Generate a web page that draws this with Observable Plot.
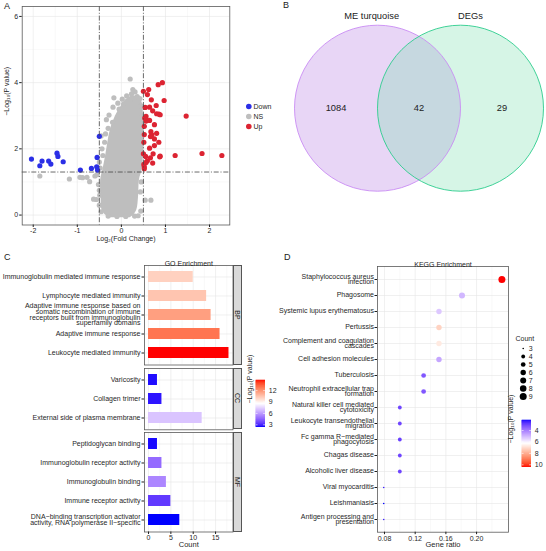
<!DOCTYPE html>
<html>
<head>
<meta charset="utf-8">
<script src="https://cdn.jsdelivr.net/npm/d3@7"></script>
<script src="https://cdn.jsdelivr.net/npm/@observablehq/plot@0.6"></script>
<style>
  body { margin: 0; background: #fff; }
  #fig { position: relative; width: 546px; height: 551px; overflow: hidden;
         font-family: "Liberation Sans", Arial, Helvetica, sans-serif; color: #1a1a1a; }
  .tag { position: absolute; font-size: 9px; line-height: 1; }
  .strip { position: absolute; background: #d9d9d9; border: 0.8px solid #555; box-sizing: border-box; }
  .strip span { position: absolute; left: 50%; top: 50%; font-size: 7px; white-space: nowrap;
                transform: translate(-50%, -50%) rotate(90deg); color: #1a1a1a; }
</style>
</head>
<body>
<div id="fig"></div>
<script>
// ---------- Volcano plot (A) ----------
const groups = ["Down", "NS", "Up"];
const downGenes = [
  [-2.04, 1.69], [-1.85, 1.49], [-1.80, 1.63], [-1.65, 1.63], [-1.60, 1.54], [-1.46, 1.87],
  [-1.44, 1.77], [-1.32, 1.61], [-0.93, 1.36], [-0.68, 1.41], [-0.56, 1.46], [-0.55, 1.74],
  [-0.54, 1.36], [-0.50, 2.38]
];
const upGenes = [
  [0.93, 4.00], [0.835, 3.94], [0.50, 3.74], [0.62, 3.79], [0.59, 3.64], [0.68, 3.48],
  [0.97, 3.46], [0.79, 3.31], [0.54, 3.25], [0.64, 3.26], [0.71, 3.15], [0.80, 3.06],
  [0.85, 3.05], [0.88, 3.03], [0.56, 2.98], [0.53, 2.93], [0.55, 2.90], [0.56, 2.84],
  [1.47, 2.99], [0.64, 2.86], [0.75, 2.73], [0.52, 2.68], [0.67, 2.52], [0.52, 2.43],
  [0.69, 2.42], [0.80, 2.47], [0.66, 2.37], [0.75, 2.30], [0.51, 2.20], [0.85, 2.20],
  [0.64, 2.02], [0.75, 2.10], [0.50, 1.85], [0.55, 1.77], [0.72, 1.85], [0.88, 1.78],
  [0.87, 1.76], [1.22, 1.80], [1.83, 1.86], [2.28, 1.80], [0.66, 1.73], [0.59, 1.64],
  [0.71, 1.57], [0.51, 1.53], [0.52, 1.46], [0.56, 1.59], [0.52, 1.40]
];
// non-significant genes lying around the dense central cloud
const nsGenes = [
  [0.20, 4.11], [0.26, 3.79], [0.31, 3.72], [0.23, 3.66], [0.36, 3.58], [0.42, 3.52],
  [0.12, 3.60], [0.02, 3.50], [-0.17, 3.54], [-0.19, 3.26], [-0.08, 3.38], [-0.28, 3.02],
  [-0.34, 2.88], [-0.30, 2.62], [-0.36, 2.45], [-0.46, 2.39], [-0.38, 2.20], [-0.44, 2.00],
  [-0.42, 1.80], [-0.50, 1.60], [-0.48, 1.42], [-0.55, 1.22], [-0.60, 1.18], [-0.72, 1.01],
  [-0.78, 1.14], [-0.88, 1.13], [-0.94, 1.14], [-1.18, 1.09], [-1.85, 1.18], [-0.52, 0.92],
  [-0.50, 0.75], [-0.63, 0.48], [-0.57, 0.47], [-0.49, 0.60], [-0.50, 0.30], [-0.46, 0.10],
  [0.54, 0.45], [0.67, 0.45], [0.44, 0.12], [0.43, 0.70], [0.45, 1.00], [0.38, -0.02],
  [-0.30, -0.03], [0.10, -0.04], [-0.10, -0.04], [0.30, -0.03], [0.45, 3.30], [0.48, 3.00],
  [0.50, 2.70], [-0.20, 2.80], [-0.05, 3.20], [0.05, 3.35], [0.30, 3.45]
];
// outline of the densely packed non-significant core (-log10 P, left and right logFC edge)
const nsCoreY     = [-0.08, 0.00, 0.15, 0.55, 1.06, 1.36, 1.76, 2.17, 2.57, 2.97, 3.27, 3.47, 3.60];
const nsCoreLeft  = [-0.25, -0.36, -0.44, -0.46, -0.47, -0.42, -0.36, -0.31, -0.25, -0.14, -0.01, 0.09, 0.22];
const nsCoreRight = [0.20, 0.28, 0.35, 0.39, 0.41, 0.47, 0.50, 0.52, 0.52, 0.50, 0.49, 0.45, 0.36];
const fcCut = 0.5;
const pCut = 1.3;

// ---------- Venn diagram (B) ----------
const vennSets = ["ME turquoise", "DEGs"];
const vennRegionCounts = [1084, 42, 29]; // only ME turquoise, shared, only DEGs

// ---------- GO enrichment (C) ----------
const goCategories = ["BP", "CC", "MF"];
const bpTerms = [
  "Immunoglobulin mediated immune response",
  "Lymphocyte mediated immunity",
  "Adaptive immune response based on\nsomatic recombination of immune\nreceptors built from immunoglobulin\nsuperfamily domains",
  "Adaptive immune response",
  "Leukocyte mediated immunity"
];
const bpCounts = [10, 13, 14, 16, 18];
const bpLogP = [10.0, 10.4, 11.6, 12.8, 14.66];
const ccTerms = ["Varicosity", "Collagen trimer", "External side of plasma membrane"];
const ccCounts = [2, 3, 12];
const ccLogP = [2.5, 2.6, 7.0];
const mfTerms = [
  "Peptidoglycan binding",
  "Immunoglobulin receptor activity",
  "Immunoglobulin binding",
  "Immune receptor activity",
  "DNA\u2212binding transcription activator\nactivity, RNA polymerase II\u2212specific"
];
const mfCounts = [2, 3, 4, 5, 7];
const mfLogP = [2.45, 4.6, 5.35, 3.35, 2.37];
const goCountTicks = [0, 5, 10, 15];
const goLegendTicks = [3, 6, 9, 12];

// ---------- KEGG enrichment (D) ----------
const keggTerms = [
  "Staphylococcus aureus\ninfection",
  "Phagosome",
  "Systemic lupus erythematosus",
  "Pertussis",
  "Complement and coagulation\ncascades",
  "Cell adhesion molecules",
  "Tuberculosis",
  "Neutrophil extracellular trap\nformation",
  "Natural killer cell mediated\ncytotoxicity",
  "Leukocyte transendothelial\nmigration",
  "Fc gamma R\u2212mediated\nphagocytosis",
  "Chagas disease",
  "Alcoholic liver disease",
  "Viral myocarditis",
  "Leishmaniasis",
  "Antigen processing and\npresentation"
];
const keggRatio = [0.233, 0.181, 0.151, 0.151, 0.151, 0.151, 0.131, 0.131, 0.100, 0.100, 0.100, 0.100, 0.100, 0.079, 0.079, 0.079];
const keggCount = [9, 7, 6, 6, 6, 6, 5, 5, 4, 4, 4, 4, 4, 3, 3, 3];
const keggLogP = [10.42, 5.1, 5.4, 7.3, 6.8, 4.8, 3.4, 3.4, 3.1, 3.1, 3.0, 3.1, 3.1, 2.5, 2.25, 2.5];
const keggRatioTicks = [0.08, 0.12, 0.16, 0.20];
const keggSizeKeys = [3, 4, 5, 6, 7, 8, 9];
const keggLegendTicks = [4, 6, 8, 10];

// ---------- helpers ----------
const FONT = '"Liberation Sans", Arial, Helvetica, sans-serif';
const fig = document.getElementById("fig");
const TITLE_LOGP = "\u2212Log\u2081\u2080(P value)";

function put(node, left, top) {
  node.style.position = "absolute";
  node.style.left = left + "px";
  node.style.top = top + "px";
  fig.appendChild(node);
  return node;
}
function styleOf(size = "7px") {
  return { fontFamily: FONT, fontSize: size, color: "#1f1f1f", background: "transparent", overflow: "visible" };
}
const gridMajor = { stroke: "#e6e6e6", strokeOpacity: 1, strokeWidth: 0.6 };
const gridMinor = { stroke: "#f1f1f1", strokeOpacity: 1, strokeWidth: 0.4 };
const frameStyle = { stroke: "#5a5a5a", strokeWidth: 0.8 };
const dashStyle = { stroke: "#454545", strokeWidth: 0.8, strokeDasharray: "5,1.8,1,1.8" };

for (const [t, l, tp] of [["A", 4, 2], ["B", 283, 1], ["C", 4, 253], ["D", 284, 253]]) {
  const d = document.createElement("div");
  d.className = "tag";
  d.textContent = t;
  d.style.left = l + "px";
  d.style.top = tp + "px";
  fig.appendChild(d);
}

// ---------- A: volcano ----------
const groupColors = ["#2b2fe6", "#bebebe", "#dc2432"];
const volcanoRows = [
  ...nsGenes.map(([x, y]) => ({ x, y, group: "NS" })),
  ...downGenes.map(([x, y]) => ({ x, y, group: "Down" })),
  ...upGenes.map(([x, y]) => ({ x, y, group: "Up" }))
];
const nsCore = nsCoreY.map((y, i) => ({ y, x1: nsCoreLeft[i], x2: nsCoreRight[i] }));

put(Plot.plot({
  width: 240, height: 246,
  marginLeft: 21.7, marginRight: 10.7, marginTop: 6, marginBottom: 21.5,
  style: styleOf(),
  x: { domain: [-2.25, 2.46] },
  y: { domain: [-0.3, 6.3] },
  color: { domain: groups, range: groupColors },
  marks: [
    Plot.gridX([-1.5, -0.5, 0.5, 1.5], gridMinor),
    Plot.gridY([1, 3, 5], gridMinor),
    Plot.gridX([-2, -1, 0, 1, 2], gridMajor),
    Plot.gridY([0, 2, 4, 6], gridMajor),
    Plot.areaX(nsCore, { y: "y", x1: "x1", x2: "x2", fill: groupColors[1], curve: "catmull-rom" }),
    Plot.dot(volcanoRows, { x: "x", y: "y", fill: "group", r: 2.6 }),
    Plot.ruleX([-fcCut, fcCut], dashStyle),
    Plot.ruleY([pCut], dashStyle),
    Plot.frame(frameStyle),
    Plot.axisX([-2, -1, 0, 1, 2], { tickSize: 2.5, tickPadding: 1, label: null, tickFormat: d => String(d) }),
    Plot.axisY([0, 2, 4, 6], { tickSize: 2.5, tickPadding: 1.5, label: null, tickFormat: d => String(d) }),
    Plot.text(["Log\u2082(Fold Change)"], { text: d => d, frameAnchor: "bottom", dy: 15.5 }),
    Plot.text([TITLE_LOGP], { text: d => d, frameAnchor: "left", dx: -15, rotate: -90 })
  ]
}), 0, 0);

put(Plot.plot({
  width: 40, height: 36, margin: 0,
  style: styleOf(),
  x: { domain: [0, 1], range: [5.3, 30], axis: null },
  y: { type: "point", domain: groups, range: [6, 27], padding: 0, axis: null },
  color: { domain: groups, range: groupColors },
  marks: [
    Plot.dot(groups, { x: 0, y: d => d, fill: d => d, r: 2.8 }),
    Plot.text(groups, { x: 0, y: d => d, text: d => d, dx: 4.7, textAnchor: "start" })
  ]
}), 243, 99);

// ---------- B: Venn ----------
const R = 83; // circle radius in pixels; centres sit half a radius either side of the middle
const vennCircles = vennSets.map((name, i) => ({ name, cx: i === 0 ? -0.5 : 0.5, tx: i === 0 ? -0.57 : 0.62 }));
const vennRegions = vennRegionCounts.map((n, i) => ({ n, cx: i - 1 }));
put(Plot.plot({
  width: 273, height: 230, margin: 0,
  style: styleOf("9.3px"),
  x: { domain: [-145.5 / R, 127.5 / R], axis: null },
  y: { domain: [-122.3 / R, 107.7 / R], axis: null },
  marks: [
    Plot.dot([vennCircles[0]], { x: "cx", y: 0, r: R, fill: "#e8d6f6" }),
    Plot.dot([vennCircles[1]], { x: "cx", y: 0, r: R, fill: "#76deac", fillOpacity: 0.3 }),
    Plot.dot([vennCircles[0]], { x: "cx", y: 0, r: R, fill: "none", stroke: "#c98cf4", strokeWidth: 0.9 }),
    Plot.dot([vennCircles[1]], { x: "cx", y: 0, r: R, fill: "none", stroke: "#2ccd8d", strokeWidth: 0.9 }),
    Plot.text(vennRegions, { x: "cx", y: 0, text: d => String(d.n), fill: "#222" }),
    Plot.text(vennCircles, { x: "tx", y: 1.105, text: "name", fill: "#222" })
  ]
}), 273, 0);

// ---------- C: GO enrichment ----------
const goColor = {
  type: "linear", domain: [2.37, 8.515, 14.66], range: ["blue", "white", "red"], interpolate: "lab"
};
function goFacet(terms, counts, logp, opts) {
  const rows = terms.map((term, i) => ({ term, count: counts[i], p: logp[i] }));
  const frameH = opts.frameH;
  return Plot.plot({
    width: 233, height: opts.marginTop + frameH + opts.marginBottom,
    marginLeft: 144, marginRight: 0.5, marginTop: opts.marginTop, marginBottom: opts.marginBottom,
    style: styleOf(),
    x: { domain: [-0.9, 18.9], axis: null },
    y: { type: "band", domain: terms, paddingInner: 0.42, paddingOuter: 0.31 },
    color: goColor,
    marks: [
      Plot.gridX([2.5, 7.5, 12.5, 17.5], gridMinor),
      Plot.gridX(goCountTicks, gridMajor),
      Plot.gridY(terms, gridMajor),
      Plot.barX(rows, { x: "count", y: "term", fill: "p" }),
      Plot.frame(frameStyle),
      Plot.axisY({ tickSize: 2.5, tickFormat: () => "", label: null }),
      Plot.text(rows, { y: "term", text: "term", frameAnchor: "left", textAnchor: "end", dx: -4, lineHeight: 0.8 }),
      ...(opts.title ? [Plot.text([opts.title], { text: d => d, frameAnchor: "top", dy: -4.5 })] : []),
      ...(opts.xAxis ? [
        Plot.axisX(goCountTicks, { tickSize: 2.5, tickPadding: 1, label: null }),
        Plot.text(["Count"], { text: d => d, frameAnchor: "bottom", dy: 15.3, fontSize: 7.5 })
      ] : [])
    ]
  });
}
const goPanels = [
  { terms: bpTerms, counts: bpCounts, logp: bpLogP, top: 250, marginTop: 15, frameH: 99.5, marginBottom: 0, title: "GO Enrichment" },
  { terms: ccTerms, counts: ccCounts, logp: ccLogP, top: 367.8, marginTop: 0, frameH: 61.3, marginBottom: 0 },
  { terms: mfTerms, counts: mfCounts, logp: mfLogP, top: 432.4, marginTop: 0, frameH: 99.5, marginBottom: 18.1, xAxis: true }
];
goPanels.forEach((p, i) => {
  put(goFacet(p.terms, p.counts, p.logp, p), 0, p.top);
  const s = document.createElement("div");
  s.className = "strip";
  s.style.left = "232.5px";
  s.style.top = (p.top + p.marginTop) + "px";
  s.style.width = "9.5px";
  s.style.height = p.frameH + "px";
  const span = document.createElement("span");
  span.textContent = goCategories[i];
  s.appendChild(span);
  fig.appendChild(s);
});

// colour bar for GO
const goRamp = d3.range(121).map(i => goColor.domain[0] + i * (goColor.domain[2] - goColor.domain[0]) / 120);
put(Plot.plot({
  width: 40, height: 62, margin: 0,
  style: styleOf(),
  x: { domain: [0, 1], range: [15.7, 25], axis: null },
  y: { domain: [goColor.domain[0], goColor.domain[2]], range: [54.7, 8], axis: null },
  color: goColor,
  marks: [
    Plot.rect(goRamp.slice(0, -1), { x1: 0, x2: 1, y1: d => d, y2: (d, i) => goRamp[i + 1], fill: d => d, insetTop: -0.3, insetBottom: -0.3 }),
    Plot.ruleY(goLegendTicks, { x1: 0, x2: 0.2, stroke: "white", strokeWidth: 0.6 }),
    Plot.ruleY(goLegendTicks, { x1: 0.8, x2: 1, stroke: "white", strokeWidth: 0.6 }),
    Plot.text(goLegendTicks, { x: 1, y: d => d, text: d => String(d), dx: 3.3, textAnchor: "start" }),
    Plot.text([TITLE_LOGP], { text: d => d, frameAnchor: "left", dx: 9, rotate: -90 })
  ]
}), 240, 372);

// ---------- D: KEGG enrichment ----------
const keggColor = {
  type: "linear", domain: [2.25, 6.335, 10.42], range: ["blue", "white", "red"], interpolate: "lab"
};
const sizeScale = { type: "linear", domain: [0, 1], range: [0.8, 3.5] };
const sizeOf = c => Math.sqrt((c - 3) / 6); // area-style sizing relative to the smallest count
const keggRows = keggTerms.map((term, i) => ({ term, ratio: keggRatio[i], count: keggCount[i], p: keggLogP[i] }));

put(Plot.plot({
  width: 237, height: 300,
  marginLeft: 104, marginRight: 2, marginTop: 16, marginBottom: 18.3,
  style: styleOf(),
  x: { domain: [0.0709, 0.2416] },
  y: { type: "point", domain: keggTerms, padding: 0.6 },
  r: sizeScale,
  color: keggColor,
  marks: [
    Plot.gridX([0.10, 0.14, 0.18, 0.22], gridMinor),
    Plot.gridX(keggRatioTicks, gridMajor),
    Plot.gridY(keggTerms, gridMajor),
    Plot.dot(keggRows, { x: "ratio", y: "term", r: d => sizeOf(d.count), fill: "p" }),
    Plot.frame(frameStyle),
    Plot.axisY({ tickSize: 2.5, tickFormat: () => "", label: null }),
    Plot.text(keggRows, { y: "term", text: "term", frameAnchor: "left", textAnchor: "end", dx: -3.5, lineHeight: 0.8 }),
    Plot.axisX(keggRatioTicks, { tickSize: 2.5, tickPadding: 1, label: null, tickFormat: d3.format(".2f") }),
    Plot.text(["KEGG Enrichment"], { text: d => d, frameAnchor: "top", dy: -4.5 }),
    Plot.text(["Gene ratio"], { text: d => d, frameAnchor: "bottom", dy: 15, fontSize: 7.5 })
  ]
}), 273, 250);

// size legend
put(Plot.plot({
  width: 36, height: 72, margin: 0,
  style: styleOf(),
  x: { domain: [0, 1], range: [12.7, 20], axis: null },
  y: { type: "point", domain: keggSizeKeys, range: [17, 66], padding: 0, axis: null },
  r: sizeScale,
  marks: [
    Plot.dot(keggSizeKeys, { x: 0, y: d => d, r: d => sizeOf(d), fill: "black" }),
    Plot.text(keggSizeKeys, { x: 0, y: d => d, text: d => String(d), dx: 5.6, textAnchor: "start" }),
    Plot.text(["Count"], { text: d => d, frameAnchor: "top-left", dx: 5, dy: 5.5, textAnchor: "start" })
  ]
}), 510, 330);

// colour bar for KEGG (low values on top)
const keggRamp = d3.range(121).map(i => keggColor.domain[0] + i * (keggColor.domain[2] - keggColor.domain[0]) / 120);
put(Plot.plot({
  width: 43, height: 62, margin: 0,
  style: styleOf(),
  x: { domain: [0, 1], range: [18.7, 28], axis: null },
  y: { domain: [keggColor.domain[0], keggColor.domain[2]], range: [8, 54.7], axis: null },
  color: keggColor,
  marks: [
    Plot.rect(keggRamp.slice(0, -1), { x1: 0, x2: 1, y1: d => d, y2: (d, i) => keggRamp[i + 1], fill: d => d, insetTop: -0.3, insetBottom: -0.3 }),
    Plot.ruleY(keggLegendTicks, { x1: 0, x2: 0.2, stroke: "white", strokeWidth: 0.6 }),
    Plot.ruleY(keggLegendTicks, { x1: 0.8, x2: 1, stroke: "white", strokeWidth: 0.6 }),
    Plot.text(keggLegendTicks, { x: 1, y: d => d, text: d => String(d), dx: 3.3, textAnchor: "start" }),
    Plot.text([TITLE_LOGP], { text: d => d, frameAnchor: "left", dx: 7, rotate: -90 })
  ]
}), 503, 412);
</script>
</body>
</html>
